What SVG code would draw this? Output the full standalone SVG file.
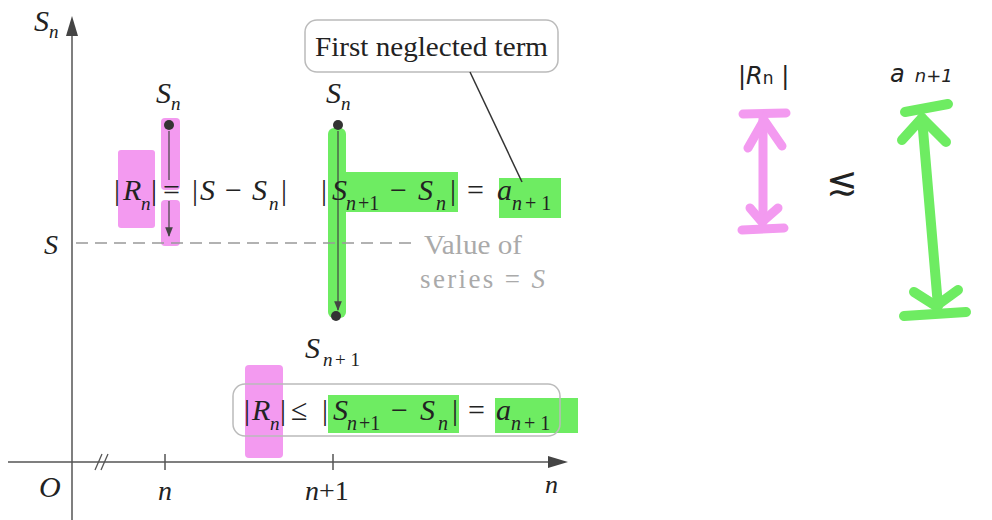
<svg xmlns="http://www.w3.org/2000/svg" width="992" height="520" viewBox="0 0 992 520">
<defs>
<style>
.m{font-family:"Liberation Serif",serif;font-style:italic;fill:#222}
.r{font-family:"Liberation Serif",serif;fill:#222}
.g{font-family:"Liberation Serif",serif;fill:#aaa}
.ax{stroke:#555;stroke-width:1.5;fill:none}
.pk{fill:#f39af0}
.gr{fill:#6eec62}
.hand{font-family:"DejaVu Sans",sans-serif;fill:#222}
</style>
<marker id="ah" viewBox="0 0 10 10" refX="9" refY="5" markerWidth="8" markerHeight="8" orient="auto"><path d="M0,1 L10,5 L0,9 z" fill="#444"/></marker>
</defs>
<rect width="992" height="520" fill="#fff"/>

<!-- highlights -->
<rect class="pk" x="118" y="150" width="37" height="78" rx="3"/>
<rect class="pk" x="161" y="118" width="19" height="72" rx="4"/>
<rect class="pk" x="161" y="200" width="19" height="46" rx="4"/>
<rect class="gr" x="328" y="128" width="18" height="190" rx="6"/>
<rect class="gr" x="335" y="172" width="123" height="40"/>
<rect class="gr" x="499" y="178" width="62" height="40"/>
<rect class="pk" x="245" y="365" width="38" height="93" rx="4"/>
<rect class="gr" x="328" y="395" width="131" height="38"/>
<rect class="gr" x="495" y="398" width="83" height="35"/>

<!-- axes -->
<g id="axes">
<line class="ax" x1="72" y1="22" x2="72" y2="520"/>
<path d="M66,36 L72,16 L78,36 z" fill="#444"/>
<line class="ax" x1="8" y1="462" x2="560" y2="462"/>
<path d="M548,456 L568,462 L548,468 z" fill="#444"/>
<path d="M95,470 L102,454 M101,470 L108,454" stroke="#555" stroke-width="1.3"/>
<line class="ax" x1="165" y1="454" x2="165" y2="470"/>
<line class="ax" x1="333" y1="454" x2="333" y2="470"/>
<text class="m" x="34" y="31" font-size="30">S<tspan font-size="19" dy="7">n</tspan></text>
<text class="m" x="39" y="497" font-size="30">O</text>
<text class="m" x="158" y="500" font-size="28">n</text>
<text class="r" x="305" y="500" font-size="28"><tspan class="m">n</tspan>+1</text>
<text class="m" x="545" y="493" font-size="26">n</text>
<text class="m" x="44" y="254" font-size="28">S</text>
</g>

<!-- dashed value line -->
<line x1="76" y1="243" x2="418" y2="243" stroke="#999" stroke-width="1.5" stroke-dasharray="12,7"/>
<text class="g" x="424" y="254" font-size="27" textLength="98" lengthAdjust="spacingAndGlyphs">Value of</text>
<text class="g" x="420" y="288" font-size="27" textLength="125" lengthAdjust="spacing">series = <tspan font-style="italic">S</tspan></text>

<!-- S_n point -->
<g id="pt-sn">
<text class="m" x="156" y="103" font-size="30">S<tspan font-size="19" dy="7">n</tspan></text>
<circle cx="169" cy="125" r="5" fill="#333"/>
<line x1="169" y1="131" x2="169" y2="180" stroke="#444" stroke-width="1.2"/>
<line x1="169" y1="201" x2="169" y2="236" stroke="#444" stroke-width="1.2" marker-end="url(#ah)"/>
<text class="r" y="200" font-size="30"><tspan x="114">|</tspan><tspan class="m" x="123">R</tspan><tspan class="m" font-size="19" x="141" y="210">n</tspan><tspan x="151" y="200">|</tspan><tspan x="163">=</tspan><tspan x="192">|</tspan><tspan class="m" x="200">S</tspan><tspan x="225">−</tspan><tspan class="m" x="252">S</tspan><tspan class="m" font-size="19" x="269" y="210">n</tspan><tspan x="281" y="200">|</tspan></text>
</g>

<!-- S_n, S_n+1 -->
<g id="pt-sn1">
<text class="m" x="326" y="103" font-size="30">S<tspan font-size="19" dy="7">n</tspan></text>
<circle cx="338" cy="125" r="5" fill="#333"/>
<line x1="338" y1="131" x2="338" y2="310" stroke="#444" stroke-width="1.2" marker-end="url(#ah)"/>
<circle cx="336" cy="316" r="5" fill="#333"/>
<text class="m" y="358" font-size="30"><tspan x="305">S</tspan><tspan font-size="19" x="323" y="366">n</tspan><tspan font-style="normal" font-size="19" x="335" y="366">+ 1</tspan></text>
<text class="r" y="200" font-size="30"><tspan x="321">|</tspan><tspan class="m" x="332">S</tspan><tspan class="m" font-size="20" x="346" y="210">n</tspan><tspan font-size="20" x="358" y="210">+1</tspan><tspan x="390" y="200">−</tspan><tspan class="m" x="418">S</tspan><tspan class="m" font-size="20" x="436" y="210">n</tspan><tspan x="450" y="200">|</tspan><tspan x="467">=</tspan><tspan class="m" x="497">a</tspan><tspan class="m" font-size="20" x="512" y="210">n</tspan><tspan font-size="20" x="525" y="210">+ 1</tspan></text>
</g>

<!-- callout -->
<g id="callout">
<rect x="305" y="20" width="253" height="52" rx="12" fill="#fff" stroke="#bbb" stroke-width="1.5"/>
<text class="r" x="315" y="56" font-size="28" textLength="233" lengthAdjust="spacingAndGlyphs">First neglected term</text>
</g>
<g id="connectors">
<line x1="470" y1="72" x2="522" y2="182" stroke="#333" stroke-width="1.5"/>
</g>

<!-- bottom inequality -->
<g id="inequality">
<rect x="233" y="384" width="327" height="52" rx="12" fill="none" stroke="#bbb" stroke-width="1.5"/>
<text class="r" y="420" font-size="30"><tspan x="244">|</tspan><tspan class="m" x="252">R</tspan><tspan class="m" font-size="19" x="270" y="430">n</tspan><tspan x="280" y="420">|</tspan><tspan x="291">≤</tspan><tspan x="322">|</tspan><tspan class="m" x="333">S</tspan><tspan class="m" font-size="20" x="347" y="430">n</tspan><tspan font-size="20" x="359" y="430">+1</tspan><tspan x="391" y="420">−</tspan><tspan class="m" x="420">S</tspan><tspan class="m" font-size="20" x="438" y="430">n</tspan><tspan x="452" y="420">|</tspan><tspan x="468">=</tspan><tspan class="m" x="496">a</tspan><tspan class="m" font-size="20" x="511" y="430">n</tspan><tspan font-size="20" x="524" y="430">+ 1</tspan></text>
</g>

<!-- handwritten comparison -->
<g id="hand">
<text class="hand" x="738" y="84" font-size="24">|<tspan font-style="italic">R</tspan><tspan font-size="17">n</tspan> |</text>
<text class="hand" x="890" y="82" font-size="24" font-style="italic">a<tspan font-size="18" dx="10">n+1</tspan></text>
<g stroke="#f39af0" stroke-width="9" stroke-linecap="round" fill="none">
<line x1="743" y1="114" x2="786" y2="113"/>
<line x1="763" y1="116" x2="763" y2="222"/>
<path d="M748,148 L764,120 L782,146"/>
<path d="M750,208 L762,222 L778,208"/>
<line x1="742" y1="230" x2="784" y2="228"/>
</g>
<text class="hand" x="826" y="194" font-size="38">≲</text>
<g stroke="#6eec62" stroke-width="10" stroke-linecap="round" fill="none">
<line x1="922" y1="118" x2="938" y2="306"/>
<path d="M902,140 L922,118 L946,142"/>
<line x1="905" y1="112" x2="948" y2="104"/>
<path d="M914,292 L936,306 L958,290"/>
<line x1="904" y1="316" x2="966" y2="312"/>
</g>
</g>
</svg>
